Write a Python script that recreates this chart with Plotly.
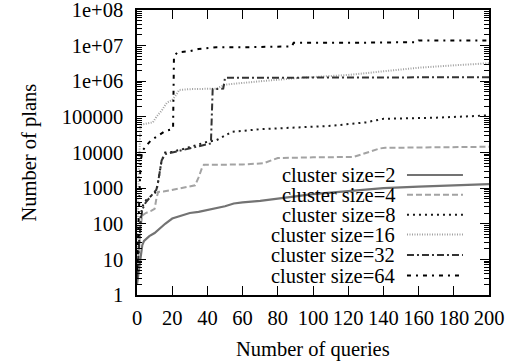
import plotly.graph_objects as go

# ---- data ----
x2 = [0, 1, 2, 3, 4, 5, 7, 10, 13, 16, 20, 25, 30, 35, 40, 45, 50, 55, 60, 70, 80, 90, 100, 120, 140, 160, 180, 200]
y2 = [2, 5, 12, 25, 33, 37, 45, 55, 75, 100, 140, 170, 200, 215, 240, 270, 310, 370, 400, 440, 510, 600, 680, 820, 1000, 1100, 1200, 1300]

x4 = [0, 1, 2, 3, 5, 8, 10, 11, 12, 15, 20, 25, 30, 33, 35, 37, 38, 45, 60, 72, 76, 80, 100, 123, 128, 133, 138, 141, 160, 180, 200]
y4 = [3, 20, 80, 170, 200, 230, 260, 500, 780, 800, 900, 1000, 1100, 1200, 2000, 3800, 4500, 4500, 4600, 5000, 6000, 7000, 7300, 7500, 9000, 11000, 13000, 13500, 13800, 14000, 14500]

x8 = [0, 1, 2, 3, 5, 8, 11, 12, 13, 14, 16, 20, 25, 30, 35, 40, 45, 48, 54, 70, 93, 110, 130, 140, 170, 200]
y8 = [3, 30, 150, 300, 450, 600, 800, 1500, 3000, 6000, 10000, 10500, 12000, 14000, 17000, 20000, 22000, 26000, 38000, 45000, 50000, 56000, 70000, 88000, 95000, 110000]

x16 = [0, 1, 2, 5, 9, 11, 14, 17, 20, 22, 24, 30, 45, 50, 60, 70, 93, 120, 140, 160, 180, 200]
y16 = [10, 3000, 60000, 65000, 70000, 100000, 150000, 250000, 300000, 400000, 570000, 600000, 620000, 800000, 900000, 1000000, 1250000, 1500000, 1900000, 2400000, 2800000, 3200000]

x32 = [0, 1, 2, 3, 5, 8, 11, 12, 13, 14, 16, 20, 25, 30, 35, 40, 42, 43, 49, 50, 60, 100, 150, 200]
y32 = [3, 20, 100, 250, 400, 600, 900, 1500, 3500, 6000, 9000, 10000, 11500, 13000, 15000, 17000, 18000, 600000, 620000, 1250000, 1250000, 1280000, 1300000, 1300000]

x64 = [0, 1, 2, 3, 5, 8, 12, 16, 20, 20.5, 21, 23, 30, 35, 45, 60, 88, 89, 120, 159, 160, 200]
y64 = [5, 300, 5000, 11000, 15000, 22000, 30000, 40000, 45000, 50000, 5000000, 6500000, 7000000, 8000000, 9000000, 9000000, 9500000, 12000000, 12000000, 12500000, 14000000, 14000000]

series_names = ["cluster size=2", "cluster size=4", "cluster size=8",
                "cluster size=16", "cluster size=32", "cluster size=64"]

y_tickvals = [1, 10, 100, 1000, 10000, 100000, 1e6, 1e7, 1e8]
y_ticktext = ["1", "10", "100", "1000", "10000", "100000", "1e+06", "1e+07", "1e+08"]
x_tickvals = [0, 20, 40, 60, 80, 100, 120, 140, 160, 180, 200]

# ---- styles ----
styles = [
    dict(color="#737373", width=2.2, dash="solid"),
    dict(color="#a3a3a3", width=2, dash="6px,3px"),
    dict(color="#1a1a1a", width=2, dash="2px,4px"),
    dict(color="#a0a0a0", width=2, dash="1px,1.5px"),
    dict(color="#333333", width=2, dash="7px,3px,2px,3px"),
    dict(color="#000000", width=2, dash="4px,5px,2px,5px"),
]

FONT = "Liberation Serif, Times New Roman, DejaVu Serif, serif"
FS = 20.5
fig = go.Figure()
data = [(x2, y2), (x4, y4), (x8, y8), (x16, y16), (x32, y32), (x64, y64)]
for (xs, ys), name, st in zip(data, series_names, styles):
    fig.add_trace(go.Scatter(x=xs, y=ys, mode="lines", name=name,
                             line=st, showlegend=False, hoverinfo="skip"))

# manual gnuplot-style key: right-aligned text, sample on right
row_y = [0.421, 0.352, 0.282, 0.212, 0.140, 0.068]
for name, st, yy in zip(series_names, styles, row_y):
    fig.add_annotation(x=0.74, y=yy, xref="paper", yref="paper", text=name,
                       showarrow=False, xanchor="right", yanchor="middle",
                       font=dict(family=FONT, size=FS, color="black"))
    fig.add_shape(type="line", xref="paper", yref="paper",
                  x0=0.767, x1=0.926, y0=yy, y1=yy, line=st)

fig.add_annotation(x=0.5, y=-0.19, xref="paper", yref="paper", text="Number of queries",
                   showarrow=False, xanchor="center", yanchor="middle",
                   font=dict(family=FONT, size=FS, color="black"))
fig.add_annotation(x=-0.304, y=0.5, xref="paper", yref="paper", text="Number of plans",
                   showarrow=False, textangle=-90, xanchor="center", yanchor="middle",
                   font=dict(family=FONT, size=FS, color="black"))

fig.update_layout(
    width=507, height=364,
    margin=dict(l=137, r=18, t=10, b=69),
    paper_bgcolor="white", plot_bgcolor="white",
    font=dict(family=FONT, size=FS, color="black"),
    showlegend=False,
)
fig.update_xaxes(range=[0, 200], tickvals=x_tickvals, ticks="inside", ticklen=9,
                 tickwidth=1, tickcolor="black", mirror="allticks", showline=True,
                 linecolor="black", linewidth=1.5, showgrid=False, zeroline=False,
                 automargin=False, ticklabeloverflow="allow",
                 tickfont=dict(family=FONT, size=FS), ticklabelstandoff=4)
fig.update_yaxes(type="log", range=[0, 8], tickvals=y_tickvals, ticktext=y_ticktext,
                 ticks="inside", ticklen=9, tickwidth=1, tickcolor="black",
                 mirror="allticks", showline=True, linecolor="black", linewidth=1.5,
                 showgrid=False, zeroline=False, automargin=False,
                 ticklabeloverflow="allow",
                 minor=dict(ticks="inside", ticklen=5, tickcolor="black", dtick="D1", showgrid=False),
                 tickfont=dict(family=FONT, size=FS), ticklabelstandoff=8)

fig.write_html("out.html", config={"displayModeBar": False},
               post_script="document.body.style.margin='0';document.body.style.overflow='hidden';")
